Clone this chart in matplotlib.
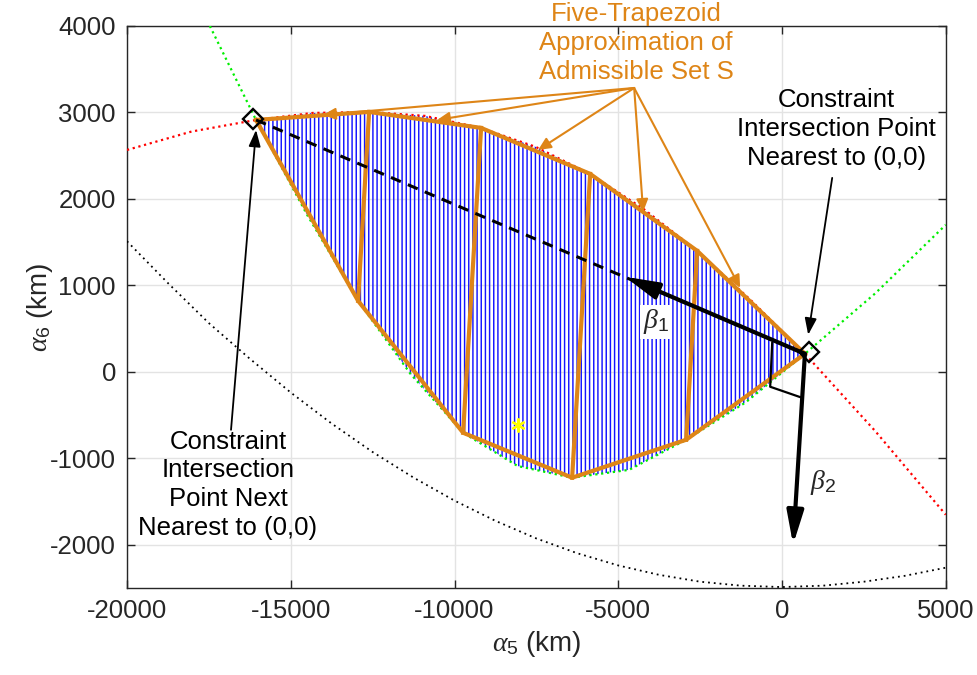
import numpy as np
import matplotlib
matplotlib.use("Agg")
import matplotlib.pyplot as plt
from matplotlib.patches import Polygon

plt.rcParams["font.family"] = ["Liberation Sans", "DejaVu Sans"]
plt.rcParams["mathtext.fontset"] = "custom"
plt.rcParams["mathtext.rm"] = "Liberation Sans"
plt.rcParams["mathtext.it"] = "Liberation Serif:italic"
plt.rcParams["axes.unicode_minus"] = False
plt.rcParams["hatch.linewidth"] = 1.05

# constraint curves, km
red_x = [-20000, -18030, -16060, -14334, -12608, -10898, -9188, -7523, -5858,
         -4224, -2590, -945, 700, 2850, 5000]
red_y = [2566, 2779, 2913, 2994, 3006, 2960, 2821, 2602, 2289,
         1883, 1399, 826, 208, -687, -1653]

green_x = [-17470, -16060, -14502, -12944, -11340, -9737, -8072, -6408, -4667,
           -2926, -1113, 700, 2850, 5000]
green_y = [4000, 2913, 1817, 821, -26, -705, -1090, -1225, -1134,
           -786, -355, 208, 908, 1700]

black_x = [-20000, -18750, -17500, -16250, -15000, -13750, -12500, -11250, -10000,
           -8750, -7500, -6250, -5000, -3750, -2500, -1250, 0, 1250, 2500, 3750, 5000]
black_y = [1510, 1026, 563, 151, -240, -599, -928, -1224, -1490,
           -1724, -1928, -2099, -2240, -2349, -2428, -2474, -2490, -2474, -2428, -2360, -2266]

# five-trapezoid approximation vertices
upper_x = [-16060, -12608, -9188, -5858, -2590, 700]
upper_y = [2913, 3006, 2821, 2289, 1399, 208]
lower_x = [-16060, -12944, -9737, -6408, -2926, 700]
lower_y = [2913, 821, -705, -1225, -786, 208]

# markers / arrows
diamond_x = [-16150, 830]
diamond_y = [2925, 230]
star_x, star_y = -8060, -613
beta1_tip = (-4800, 1100)
beta2_tip = (340, -2000)
corner_x = [-299, -360, 617]
corner_y = [335, -173, -301]
label_src = (-4514, 3283)
label_tips_x = [-14013, -10531, -7447, -4239, -1277]
label_tips_y = [2971, 2913, 2566, 1850, 971]

orange = "#DE8517"
dark = "#262626"

fig = plt.figure(figsize=(9.77, 6.75), dpi=100)
ax = fig.add_axes([0.130, 0.129, 0.838, 0.8325])

# admissible set: region between red (top) and green (bottom)
top = [(x, y) for x, y in zip(red_x, red_y) if upper_x[0] <= x <= upper_x[-1]]
bot = [(x, y) for x, y in zip(green_x, green_y) if upper_x[0] <= x <= upper_x[-1]]
region = Polygon(top + bot[::-1], closed=True, facecolor="none",
                 edgecolor="#1414ff", linewidth=0, hatch="||||", zorder=2)
ax.add_patch(region)

ax.plot(black_x, black_y, color="black", lw=1.3, ls=(0, (1, 2.2)), zorder=3)
ax.plot(red_x, red_y, color="red", lw=1.6, ls=":", zorder=3)
ax.plot(green_x, green_y, color="#00EE00", lw=1.6, ls=":", zorder=3)

# trapezoids
ax.plot(upper_x, upper_y, color=orange, lw=3, zorder=4)
ax.plot(lower_x, lower_y, color=orange, lw=3, zorder=4)
for i in range(1, len(upper_x) - 1):
    ax.plot([upper_x[i], lower_x[i]], [upper_y[i], lower_y[i]],
            color=orange, lw=3, zorder=4)

# dashed line between the two intersection points
ax.plot([upper_x[0], upper_x[-1]], [upper_y[0], upper_y[-1]], color="black",
        lw=2.2, dashes=(3.5, 2.5), zorder=5)

# beta arrows
for tip in [beta1_tip, beta2_tip]:
    ax.annotate("", xy=tip, xytext=(upper_x[-1], upper_y[-1]),
                arrowprops=dict(arrowstyle="-|>,head_length=2.0,head_width=0.5",
                                mutation_scale=10, color="black", lw=3,
                                shrinkA=0, shrinkB=0), zorder=6)
ax.plot(corner_x, corner_y, color="black", lw=1.6, zorder=6)

ax.plot(diamond_x, diamond_y, ls="none", marker="D", ms=10, mfc="none",
        mec="black", mew=1.7, zorder=7)
ax.plot([star_x], [star_y], ls="none", marker=(6, 2, 0), ms=10, mec="yellow",
        mew=1.6, zorder=7)

# labels
ax.text(-3843, 578, r"$\beta_{\mathrm{1}}$", fontsize=20, ha="center", va="center",
        color=dark, bbox=dict(facecolor="white", edgecolor="none", pad=2), zorder=8)
ax.text(1258, -1283, r"$\beta_{\mathrm{2}}$", fontsize=20, ha="center", va="center",
        color=dark, zorder=8)

ax.text(-4453, 3803, "Five-Trapezoid\nApproximation of\nAdmissible Set S",
        fontsize=18.5, color=orange, ha="center", va="center", linespacing=1.25,
        zorder=8, clip_on=False)
for tx, ty in zip(label_tips_x, label_tips_y):
    ax.annotate("", xy=(tx, ty), xytext=label_src,
                arrowprops=dict(arrowstyle="-|>,head_length=0.75,head_width=0.35",
                                mutation_scale=10, color=orange, lw=1.5,
                                shrinkA=0, shrinkB=0), zorder=7)

ax.text(1656, 2810, "Constraint\nIntersection Point\nNearest to (0,0)",
        fontsize=18.5, color="black", ha="center", va="center", linespacing=1.25,
        zorder=8)
ax.annotate("", xy=(800, 428), xytext=(1533, 2243),
            arrowprops=dict(arrowstyle="-|>,head_length=1.0,head_width=0.36",
                            mutation_scale=10, color="black", lw=1.3,
                            shrinkA=0, shrinkB=0), zorder=7)

ax.text(-16915, -1306, "Constraint\nIntersection\nPoint Next\nNearest to (0,0)",
        fontsize=18.5, color="black", ha="center", va="center", linespacing=1.25,
        zorder=8)
ax.annotate("", xy=(-16060, 2798), xytext=(-16824, -671),
            arrowprops=dict(arrowstyle="-|>,head_length=1.0,head_width=0.36",
                            mutation_scale=10, color="black", lw=1.3,
                            shrinkA=0, shrinkB=0), zorder=7)

ax.set_xlim(-20000, 5000)
ax.set_ylim(-2500, 4000)
ax.set_xticks(np.arange(-20000, 5001, 5000))
ax.set_yticks(np.arange(-2000, 4001, 1000))
ax.grid(True, color="#E3E3E3", lw=1.0)
ax.set_axisbelow(True)
ax.tick_params(direction="in", length=6, width=1, top=True, right=True,
               labelsize=18.5, colors=dark, pad=8)
for s in ax.spines.values():
    s.set_color(dark)
    s.set_linewidth(1.0)

ax.set_xlabel(r"$\alpha_{\mathrm{5}}$ (km)", fontsize=20, color=dark, labelpad=4)
ax.set_ylabel(r"$\alpha_{\mathrm{6}}$ (km)", fontsize=20, color=dark, labelpad=-4)

fig.savefig("out.png", dpi=100)
